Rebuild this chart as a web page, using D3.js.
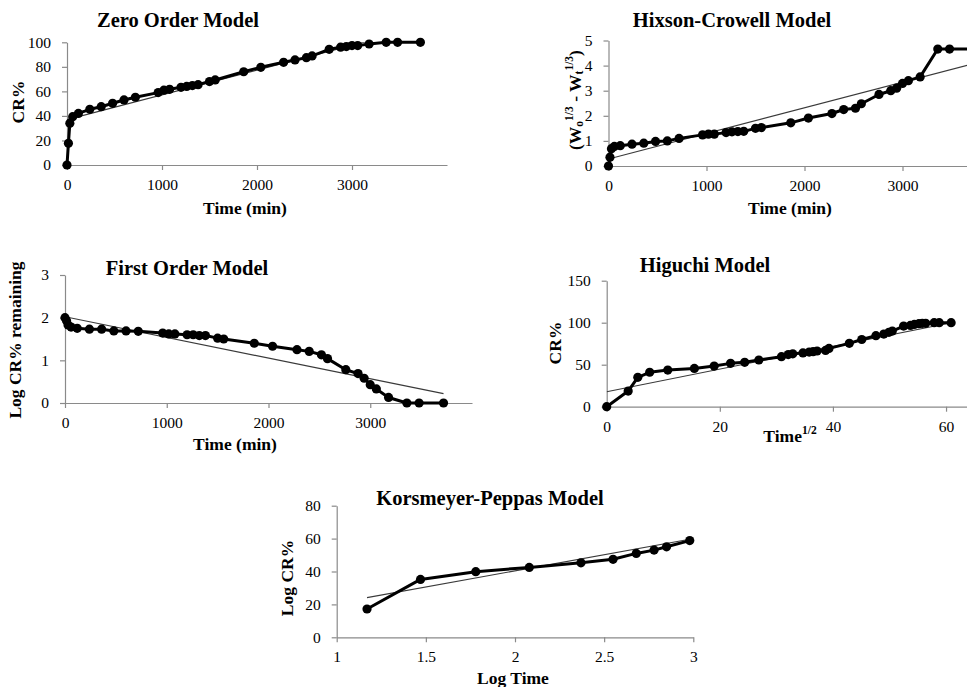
<!DOCTYPE html>
<html>
<head>
<meta charset="utf-8">
<script src="https://cdn.jsdelivr.net/npm/d3@7"></script>
<style>
  body { margin: 0; background: #fff; }
  svg { display: block; }
  text { font-family: "Liberation Serif", "Times New Roman", serif; fill: #000; }
</style>
</head>
<body>
<svg id="chart" width="967" height="687"></svg>
<script>
// Sampling times (min)
const timeMin = [0, 15, 30, 60, 120, 240, 360, 480, 600, 720, 960, 1020, 1080, 1200, 1260, 1320, 1380,
  1500, 1560, 1860, 2040, 2280, 2400, 2520, 2580, 2760, 2880, 2940, 3000, 3060, 3180, 3360, 3480, 3720];

// Zero order: cumulative release %
const zeroCR = [0, 17.7, 34, 39.4, 42, 45.4, 47.5, 50.3, 53, 55.2, 59, 61, 61.7, 63.3, 64, 64.7, 65.5,
  68, 69.3, 76, 79.6, 83.7, 85.6, 87.5, 88.9, 94.3, 96, 96.5, 97.3, 97.3, 98.6, 100, 100, 100];
const zeroFitX = [0, 3720];
const zeroFitY = [37, 112];

// Hixson-Crowell: cube-root difference
const hixsonVal = [0, 0.35, 0.69, 0.78, 0.81, 0.87, 0.91, 0.98, 1.0, 1.1, 1.24, 1.27, 1.27, 1.33, 1.36, 1.37, 1.38,
  1.5, 1.53, 1.72, 1.91, 2.09, 2.25, 2.3, 2.48, 2.85, 3.0, 3.1, 3.29, 3.4, 3.55, 4.66, 4.66, 4.66];
const hixsonFitX = [0, 3720];
const hixsonFitY = [0.28, 4.07];

// First order: log of % remaining
const firstLog = [2.0, 1.93, 1.83, 1.78, 1.75, 1.73, 1.73, 1.69, 1.69, 1.68, 1.64, 1.62, 1.62, 1.6, 1.6, 1.58, 1.58,
  1.52, 1.5, 1.4, 1.33, 1.25, 1.21, 1.13, 1.04, 0.78, 0.69, 0.58, 0.43, 0.33, 0.13, 0, 0, 0];
const firstFitX = [0, 3720];
const firstFitY = [2.02, 0.22];

// Higuchi: release % against square root of time
const rootTime = [0, 3.8, 5.5, 7.6, 10.8, 15.5, 19, 21.9, 24.4, 26.9, 30.9, 32.1, 32.9, 34.7, 35.8, 36.5, 37.2,
  38.7, 39.3, 42.9, 45.1, 47.6, 49, 49.9, 50.5, 52.5, 53.7, 54.4, 55.2, 55.8, 56.4, 57.9, 58.8, 60.9];
const higuchiCR = [0, 18.6, 35, 41, 43.6, 45.6, 48.4, 51.6, 52.8, 55.6, 59.5, 62, 63, 64, 65, 65.5, 66.3,
  67, 69.4, 75.4, 80, 84.5, 86.5, 88.5, 90, 96, 96.8, 98, 98.8, 99.2, 99.2, 100, 100, 100];
const higuchiFitX = [0, 60.9];
const higuchiFitY = [17.8, 100];

// Korsmeyer-Peppas: release against log time
const logTime = [1.17, 1.47, 1.78, 2.08, 2.37, 2.55, 2.68, 2.78, 2.85, 2.98];
const kpCR = [17.2, 35.2, 39.9, 42.5, 45.3, 47.4, 51, 53, 55, 58.8];
const kpFitX = [1.17, 2.98];
const kpFitY = [24.1, 59.6];

// Tick values
const timeTicks = [0, 1000, 2000, 3000];
const zeroYTicks = [0, 20, 40, 60, 80, 100];
const hixsonYTicks = [0, 1, 2, 3, 4, 5];
const firstYTicks = [0, 1, 2, 3];
const rootTicks = [0, 20, 40, 60];
const higuchiYTicks = [0, 50, 100, 150];
const logTimeTicks = [1, 1.5, 2, 2.5, 3];
const kpYTicks = [0, 20, 40, 60, 80];

const svg = d3.select("#chart");
const AXIS = "#8a8a8a";
let clipId = 0;

function drawPanel(p) {
  const g = svg.append("g");
  const x = d3.scaleLinear().domain(p.xDomain).range(p.xRange);
  const y = d3.scaleLinear().domain(p.yDomain).range(p.yRange);

  // plot area clip for the trend line
  const cid = "plotclip" + (clipId++);
  svg.append("clipPath").attr("id", cid)
    .append("rect")
    .attr("x", p.xRange[0]).attr("y", p.yRange[1])
    .attr("width", p.xRange[1] - p.xRange[0])
    .attr("height", p.yRange[0] - p.yRange[1]);

  const xAxis = g.append("g")
    .attr("transform", `translate(0,${p.yRange[0]})`)
    .call(d3.axisBottom(x).tickValues(p.xTicks).tickSize(5).tickSizeOuter(0).tickPadding(9)
      .tickFormat(p.xFormat || d3.format("d")));
  const yAxis = g.append("g")
    .attr("transform", `translate(${p.xRange[0]},0)`)
    .call(d3.axisLeft(y).tickValues(p.yTicks).tickSize(5).tickSizeOuter(0).tickPadding(11)
      .tickFormat(d3.format("d")));
  [xAxis, yAxis].forEach(a => {
    a.select(".domain").attr("stroke", AXIS).attr("stroke-width", 1.2);
    a.selectAll(".tick line").attr("stroke", AXIS).attr("stroke-width", 1.2);
    a.selectAll(".tick text").attr("fill", "#000")
      .style("font-family", '"Liberation Serif", "Times New Roman", serif')
      .style("font-size", "15.5px");
  });

  // fitted trend line
  const fit = p.fitX.map((v, i) => [v, p.fitY[i]]);
  g.append("path")
    .datum(fit)
    .attr("clip-path", `url(#${cid})`)
    .attr("fill", "none")
    .attr("stroke", "#3a3a3a")
    .attr("stroke-width", 1.1)
    .attr("d", d3.line().x(d => x(d[0])).y(d => y(d[1])));

  // observed data
  const pts = p.xs.map((v, i) => [v, p.ys[i]]);
  g.append("path")
    .datum(pts)
    .attr("fill", "none")
    .attr("stroke", "#000")
    .attr("stroke-width", 3)
    .attr("stroke-linejoin", "round")
    .attr("d", d3.line().x(d => x(d[0])).y(d => y(d[1])));
  g.selectAll("circle.pt")
    .data(pts)
    .join("circle")
    .attr("class", "pt")
    .attr("cx", d => x(d[0]))
    .attr("cy", d => y(d[1]))
    .attr("r", 4.6)
    .attr("fill", "#000");

  // titles and axis labels
  g.append("text")
    .attr("x", p.title[1]).attr("y", p.title[2])
    .attr("text-anchor", "middle").attr("dominant-baseline", "central")
    .style("font-size", "20.5px").style("font-weight", "bold")
    .text(p.title[0]);

  const xl = g.append("text")
    .attr("x", p.xLabel[1]).attr("y", p.xLabel[2])
    .attr("text-anchor", "middle").attr("dominant-baseline", "central")
    .style("font-size", "17.5px").style("font-weight", "bold");
  if (p.xLabelBuild) p.xLabelBuild(xl); else xl.text(p.xLabel[0]);

  const yl = g.append("text")
    .attr("transform", `translate(${p.yLabel[1]},${p.yLabel[2]}) rotate(-90)`)
    .attr("text-anchor", "middle").attr("dominant-baseline", "central")
    .style("font-size", "17.5px").style("font-weight", "bold");
  if (p.yLabelBuild) p.yLabelBuild(yl); else yl.text(p.yLabel[0]);
}

drawPanel({
  xDomain: [0, 4000], xRange: [67, 447], yDomain: [0, 100], yRange: [165, 42.3],
  xTicks: timeTicks, yTicks: zeroYTicks,
  xs: timeMin, ys: zeroCR, fitX: zeroFitX, fitY: zeroFitY,
  title: ["Zero Order Model", 178, 20],
  xLabel: ["Time (min)", 245, 208],
  yLabel: ["CR%", 18, 102]
});

drawPanel({
  xDomain: [0, 4000], xRange: [608.5, 1000.5], yDomain: [0, 5], yRange: [166, 40.5],
  xTicks: timeTicks, yTicks: hixsonYTicks,
  xs: timeMin, ys: hixsonVal, fitX: hixsonFitX, fitY: hixsonFitY,
  title: ["Hixson-Crowell Model", 732, 20],
  xLabel: ["Time (min)", 790, 208],
  yLabel: ["", 575, 100],
  yLabelBuild: t => {
    t.append("tspan").text("(W");
    t.append("tspan").attr("dy", 4).style("font-size", "11.5px").text("o");
    t.append("tspan").attr("dy", -10).style("font-size", "11.5px").text("1/3");
    t.append("tspan").attr("dy", 6).text(" - W");
    t.append("tspan").attr("dy", 4).style("font-size", "11.5px").text("t");
    t.append("tspan").attr("dy", -10).style("font-size", "11.5px").text("1/3");
    t.append("tspan").attr("dy", 6).text(")");
  }
});

drawPanel({
  xDomain: [0, 4000], xRange: [65, 472], yDomain: [0, 3], yRange: [403, 275],
  xTicks: timeTicks, yTicks: firstYTicks,
  xs: timeMin, ys: firstLog, fitX: firstFitX, fitY: firstFitY,
  title: ["First Order Model", 187, 268],
  xLabel: ["Time (min)", 235, 444],
  yLabel: ["Log CR%  remaining", 15, 340]
});

drawPanel({
  xDomain: [0, 70], xRange: [606.7, 1002.6], yDomain: [0, 150], yRange: [406.7, 280.7],
  xTicks: rootTicks, yTicks: higuchiYTicks,
  xs: rootTime, ys: higuchiCR, fitX: higuchiFitX, fitY: higuchiFitY,
  title: ["Higuchi Model", 705, 265],
  xLabel: ["", 790, 436],
  xLabelBuild: t => {
    t.append("tspan").text("Time");
    t.append("tspan").attr("dy", -6).style("font-size", "11.5px").text("1/2");
  },
  yLabel: ["CR%", 555, 343]
});

drawPanel({
  xDomain: [1, 3], xRange: [336.7, 693.3], yDomain: [0, 80], yRange: [637.3, 505.7],
  xTicks: logTimeTicks, yTicks: kpYTicks, xFormat: d3.format("~g"),
  xs: logTime, ys: kpCR, fitX: kpFitX, fitY: kpFitY,
  title: ["Korsmeyer-Peppas Model", 490, 498],
  xLabel: ["Log Time", 513, 678],
  yLabel: ["Log CR%", 287, 578]
});
</script>
</body>
</html>
